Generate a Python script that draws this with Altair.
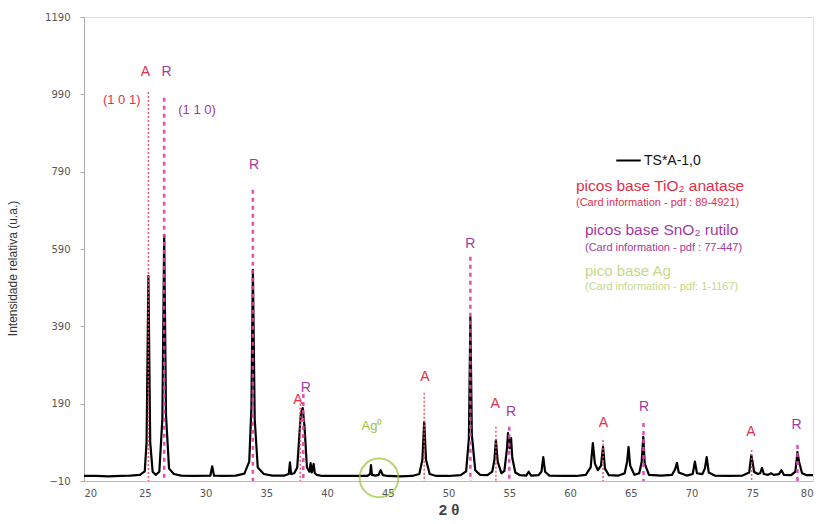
import altair as alt
import pandas as pd

# Diffractogram of sample TS*A-1,0 (2θ in degrees, relative intensity)
two_theta = [
    20.0, 21.0, 22.0, 23.0, 23.8, 24.6, 25.0, 25.15, 25.3, 25.45,
    25.65, 25.9, 26.2, 26.45, 26.6, 26.75, 27.0, 27.4, 28.0, 29.0,
    30.4, 30.55, 30.7, 31.5, 32.5, 33.2, 33.6, 33.78, 33.9, 34.05,
    34.3, 34.8, 35.5, 36.5, 36.85, 36.95, 37.05, 37.3, 37.55, 37.75,
    37.85, 38.0, 38.15, 38.35, 38.55, 38.65, 38.75, 38.9, 39.0, 39.15,
    39.6, 40.5, 41.5, 42.5, 43.3, 43.55, 43.62, 43.7, 44.0, 44.25,
    44.42, 44.6, 45.0, 46.0, 47.0, 47.6, 47.85, 48.0, 48.15, 48.45,
    49.0, 50.0, 51.0, 51.45, 51.68, 51.8, 51.92, 52.2, 52.6, 53.2,
    53.6, 53.78, 53.9, 54.05, 54.35, 54.6, 54.8, 54.9, 55.02, 55.15,
    55.25, 55.5, 55.9, 56.4, 56.6, 56.8, 57.4, 57.65, 57.8, 57.95,
    58.3, 59.5, 60.5, 61.3, 61.7, 61.88, 62.05, 62.3, 62.55, 62.72,
    62.88, 63.2, 64.0, 64.5, 64.7, 64.82, 64.95, 65.3, 65.7, 65.9,
    66.03, 66.15, 66.5, 67.5, 68.4, 68.65, 68.8, 68.95, 69.6, 70.1,
    70.28, 70.45, 70.9, 71.1, 71.25, 71.42, 71.9, 73.0, 74.2, 74.75,
    74.92, 75.02, 75.15, 75.45, 75.65, 75.8, 75.95, 76.3, 76.55, 76.75,
    77.2, 77.4, 77.6, 78.2, 78.55, 78.72, 78.85, 79.1, 79.5, 80.0,
]
intensity = [
    3, 3, 2, 3, 4, 6, 15, 90, 520, 90,
    14, 6, 14, 150, 626, 160, 22, 8, 4, 3,
    4, 28, 4, 3, 4, 9, 40, 180, 536, 150,
    25, 8, 4, 4, 8, 38, 8, 10, 25, 120,
    165, 179, 130, 25, 14, 36, 12, 34, 10, 6,
    3, 3, 3, 3, 3, 8, 31, 6, 4, 6,
    18, 5, 3, 2, 3, 8, 45, 143, 45, 8,
    3, 3, 5, 15, 100, 414, 110, 18, 6, 5,
    14, 45, 96, 40, 10, 16, 70, 114, 75, 101,
    50, 12, 5, 4, 14, 4, 5, 14, 52, 14,
    4, 3, 3, 6, 25, 88, 35, 18, 30, 78,
    22, 5, 4, 10, 40, 78, 30, 6, 10, 40,
    104, 35, 6, 4, 6, 20, 37, 12, 4, 8,
    40, 10, 8, 22, 52, 12, 4, 3, 4, 12,
    57, 40, 14, 8, 10, 24, 8, 6, 10, 6,
    8, 18, 6, 5, 14, 65, 40, 10, 5, 5,
]

# Reference reflections (dotted/dashed markers)
anatase_pos = [25.3, 37.8, 48.0, 53.9, 62.72, 74.95]
anatase_top = [996, 190, 218, 130, 96, 70]
rutile_pos = [26.6, 33.9, 38.05, 51.8, 55.0, 66.05, 78.72]
rutile_top = [981, 743, 215, 570, 130, 140, 83]

# Phase letters above the reflections
anatase_lbl_x = [25.05, 37.6, 48.05, 53.85, 62.75, 74.9]
anatase_lbl_y = [1048, 200, 259, 189, 140, 117]
rutile_lbl_x = [26.8, 34.0, 38.25, 51.8, 55.15, 66.1, 78.65]
rutile_lbl_y = [1048, 808, 231, 603, 169, 181, 135]

# Miller indices of the strongest reflections
hkl_text = ["(1 0 1)", "(1 1 0)"]
hkl_x = [23.1, 29.3]
hkl_y = [976, 950]

# Metallic silver region
ag_x = [44.28]
ag_y = [-2]
ag_lbl_x = [43.7]
ag_lbl_y = [132]

x_ticks = [20, 25, 30, 35, 40, 45, 50, 55, 60, 65, 70, 75, 80]
y_ticks = [-10, 190, 390, 590, 790, 990, 1190]

RED = "#e2304c"
PURPLE = "#a23a9e"
A_LINE = "#ee4d6c"
R_LINE = "#d846b0"
GREEN = "#9cc23c"
GREEN_TXT = "#c4d98a"
FONT = "Liberation Sans"

X = alt.X("t:Q", scale=alt.Scale(domain=[20, 80], nice=False, zero=False),
          axis=alt.Axis(values=x_ticks, title="2 θ", grid=False, ticks=False,
                        domainColor="#bbbbbb", labelColor="#555555",
                        labelFont="DejaVu Sans", labelFontSize=10, labelPadding=7,
                        titleFont=FONT, titleFontSize=15, titleFontWeight="bold",
                        titleColor="#444444", titlePadding=4))
Y = alt.Y("v:Q", scale=alt.Scale(domain=[-10, 1190], nice=False, zero=False),
          axis=alt.Axis(values=y_ticks, format="d", title="Intensidade relativa (u.a.)",
                        grid=False, tickSize=4, tickColor="#aaaaaa", domainColor="#aaaaaa",
                        labelColor="#555555", labelFont="DejaVu Sans", labelFontSize=10,
                        labelPadding=10, titleFont=FONT, titleFontSize=12,
                        titleFontWeight="normal", titleColor="#333333",
                        titleX=-72, titleY=251, titleAngle=-90,
                        titleAlign="center", titleBaseline="middle"))

pattern = pd.DataFrame({"t": two_theta, "v": intensity, "s": "TS*A-1,0"})
ana = pd.DataFrame({"t": anatase_pos, "v": anatase_top, "v0": -10})
rut = pd.DataFrame({"t": rutile_pos, "v": rutile_top, "v0": -10})
ana_lbl = pd.DataFrame({"t": anatase_lbl_x, "v": anatase_lbl_y, "txt": "A"})
rut_lbl = pd.DataFrame({"t": rutile_lbl_x, "v": rutile_lbl_y, "txt": "R"})
hkl = pd.DataFrame({"t": hkl_x, "v": hkl_y, "txt": hkl_text, "c": [RED, PURPLE]})
ag = pd.DataFrame({"t": ag_x, "v": ag_y})
ag_lbl = pd.DataFrame({"t": ag_lbl_x, "v": ag_lbl_y, "txt": ["Ag⁰"]})

line = alt.Chart(pattern).mark_line(strokeWidth=2.2, strokeJoin="round").encode(
    x=X, y=Y,
    color=alt.Color("s:N", scale=alt.Scale(range=["#000000"]),
                    legend=alt.Legend(title=None, orient="none", legendX=531, legendY=130,
                                      symbolType="stroke", symbolStrokeWidth=2,
                                      symbolSize=600, labelFont=FONT, labelFontSize=14,
                                      labelColor="#111111", labelOffset=2)),
)

ana_rules = alt.Chart(ana).mark_rule(color=A_LINE, strokeWidth=1.6, strokeDash=[2, 2],
                                     opacity=0.9).encode(x="t:Q", y="v:Q", y2="v0:Q")
rut_rules = alt.Chart(rut).mark_rule(color=R_LINE, strokeWidth=2.6, strokeDash=[4, 4],
                                     opacity=0.9).encode(x="t:Q", y="v:Q", y2="v0:Q")

ana_text = alt.Chart(ana_lbl).mark_text(font=FONT, fontSize=14, color=RED).encode(
    x="t:Q", y="v:Q", text="txt:N")
rut_text = alt.Chart(rut_lbl).mark_text(font=FONT, fontSize=14, color=PURPLE).encode(
    x="t:Q", y="v:Q", text="txt:N")
hkl_text_layer = alt.Chart(hkl).mark_text(font=FONT, fontSize=13).encode(
    x="t:Q", y="v:Q", text="txt:N", color=alt.Color("c:N", scale=None))

ag_circle = alt.Chart(ag).mark_point(shape="circle", size=1500, filled=False,
                                     color=GREEN, strokeWidth=2).encode(x="t:Q", y="v:Q")
ag_text = alt.Chart(ag_lbl).mark_text(font=FONT, fontSize=13, color=GREEN).encode(
    x="t:Q", y="v:Q", text="txt:N")

# Phase key written beside the pattern
key_lines = pd.DataFrame({
    "txt": ["picos base TiO₂ anatase", "(Card information - pdf : 89-4921)",
            "picos base SnO₂ rutilo", "(Card information - pdf : 77-447)",
            "pico base Ag", "(Card information - pdf: 1-1167)"],
    "px": [492, 492, 501, 501, 501, 501],
    "py": [169, 186, 213, 231, 254, 270],
    "fs": [15.5, 11, 15.5, 11, 15, 11],
    "c": [RED, RED, PURPLE, PURPLE, GREEN_TXT, GREEN_TXT],
})
key = alt.Chart(key_lines).mark_text(font=FONT, align="left", baseline="middle").encode(
    x=alt.X("px:Q", scale=None), y=alt.Y("py:Q", scale=None), text="txt:N",
    size=alt.Size("fs:Q", scale=None), color=alt.Color("c:N", scale=None))

chart = alt.layer(
    line, ana_rules, rut_rules, ana_text, rut_text, hkl_text_layer,
    ag_circle, ag_text, key,
).properties(
    width=729, height=464,
    autosize=alt.AutoSizeParams(type="none"),
    padding={"left": 84, "top": 17, "right": 6, "bottom": 43},
).configure_view(stroke=None).configure(background="white")

chart.save("out.html", embed_options={"renderer": "svg", "actions": False})
